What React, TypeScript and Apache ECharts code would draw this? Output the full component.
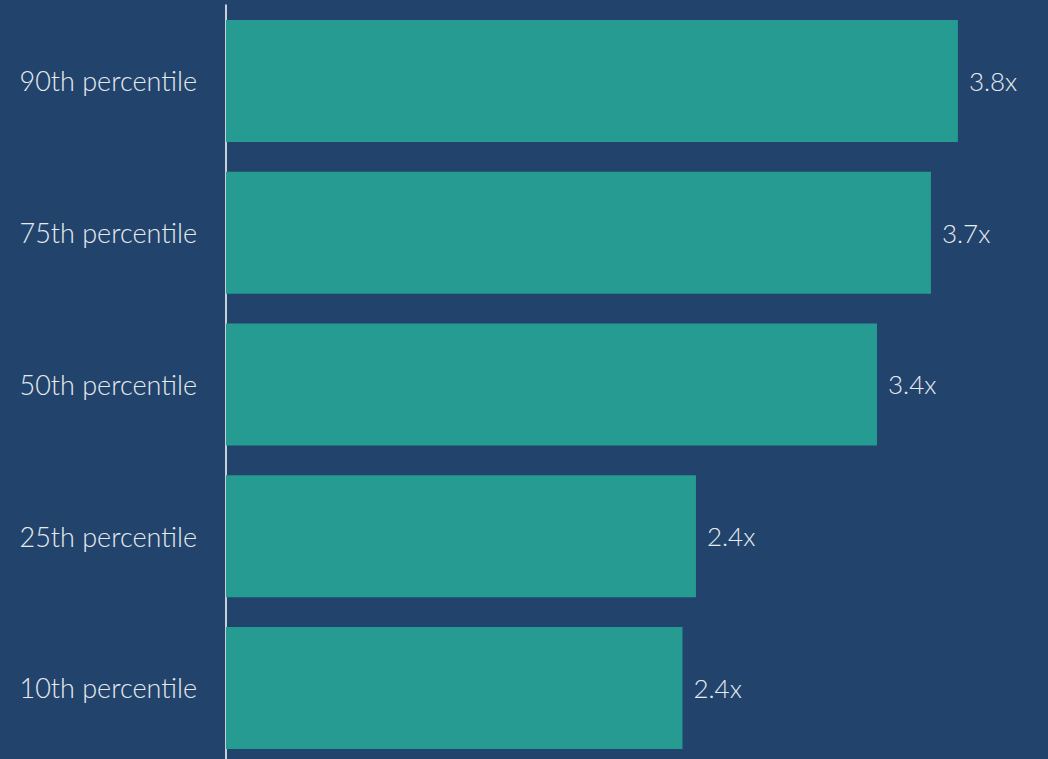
import React, { useEffect, useRef } from "react";
import * as echarts from "echarts";

const categories = ["10th percentile", "25th percentile", "50th percentile", "75th percentile", "90th percentile"];
const values = [2.37, 2.44, 3.38, 3.66, 3.8];

export default function App() {
  const ref = useRef<HTMLDivElement>(null);
  useEffect(() => {
    if (!ref.current) return;
    const chart = echarts.init(ref.current, null, { renderer: "svg" });
    const font = "Lato, 'Open Sans', sans-serif";
    chart.setOption({
      animation: false,
      backgroundColor: "#22446c",
      grid: { left: 226, top: 5, width: 770.4, height: 758.75, containLabel: false },
      xAxis: {
        type: "value",
        min: 0,
        max: 4,
        show: false,
        splitLine: { show: false },
      },
      yAxis: {
        type: "category",
        data: categories,
        axisLine: { show: true, lineStyle: { color: "#ffffff", width: 1.5 } },
        axisTick: { show: false },
        axisLabel: {
          color: "#e6ebf0",
          fontFamily: font,
          fontSize: 27,
          fontWeight: 300,
          margin: 29,
        },
      },
      series: [
        {
          type: "bar",
          data: values,
          barWidth: 122,
          itemStyle: { color: "#269b92" },
          label: {
            show: true,
            position: "right",
            distance: 11,
            color: "#e6ebf0",
            fontFamily: font,
            fontSize: 26,
            fontWeight: 300,
            formatter: (p: any) => p.value.toFixed(1) + "x",
          },
        },
      ],
    });
    return () => chart.dispose();
  }, []);
  return <div ref={ref} style={{ position: "fixed", left: 0, top: 0, width: 1048, height: 765 }} />;
}
